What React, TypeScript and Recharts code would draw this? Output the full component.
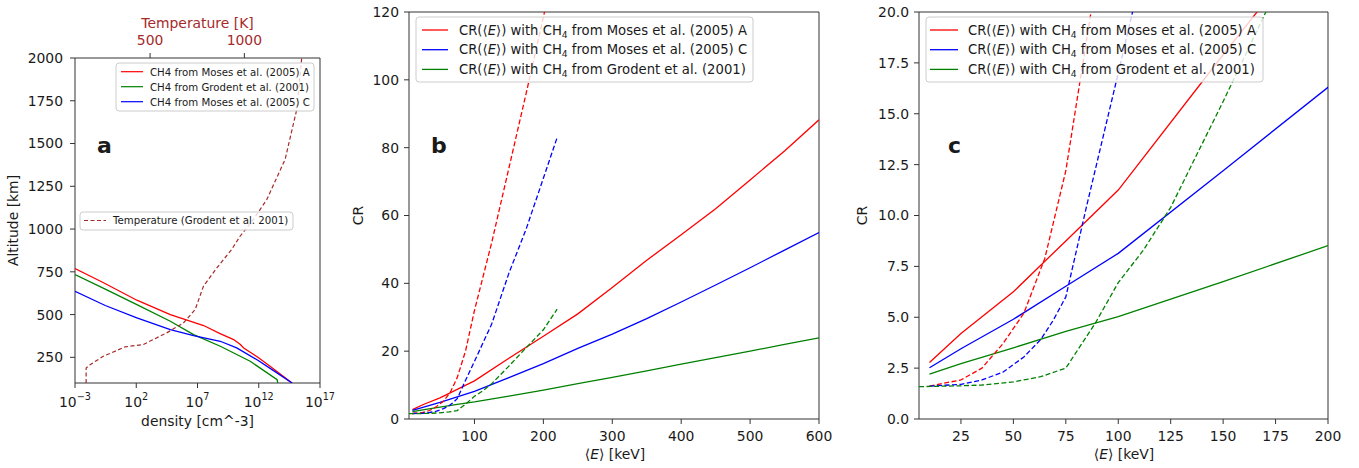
import React from "react";
import { ScatterChart, Scatter, LineChart, Line, XAxis, YAxis, ReferenceArea } from "recharts";

const FONT = "'DejaVu Sans', 'Liberation Sans', sans-serif";
const INK = "#1a1a1a";
const SPINE = "#333333";
const RED = "#ff0000";
const BLUE = "#0000ff";
const GREEN = "#008000";
const BROWN = "#a52a2a";
const TICK_FS = 13.9;

// ---- panel a: CH4 density profiles (altitude in km, log10 density in cm^-3)
const altMosesA = [769, 686, 584, 500, 436, 390, 354, 325, 305, 252, 197, 100];
const logDensMosesA = [-3, -0.67, 2.05, 4.78, 7.5, 8.8, 9.95, 10.5, 10.77, 11.9, 12.95, 14.72];
const altGrodent = [734, 649, 558, 461, 383, 315, 227, 119, 100];
const logDensGrodent = [-3, -0.53, 2.05, 4.78, 6.68, 8.86, 11.3, 13.5, 13.55];
const altMosesC = [636, 553, 481, 412, 377, 344, 305, 236, 168, 100];
const logDensMosesC = [-3, -0.53, 2.05, 4.78, 6.68, 8.86, 10.2, 11.86, 13.3, 14.72];
const tempAlt = [100, 188, 207, 256, 311, 325, 393, 451, 529, 666, 773, 881, 958, 1056, 1173, 1407, 1700, 2000];
const tempK = [161, 161, 182, 252, 367, 464, 588, 677, 739, 783, 854, 933, 977, 1048, 1119, 1216, 1278, 1304];
const densTicks = [1e-3, 1e2, 1e7, 1e12, 1e17];
const altTicks = [250, 500, 750, 1000, 1250, 1500, 1750, 2000];
const tempTicks = [500, 1000];

// ---- panels b, c: CR vs mean energy (keV)
const energySolid = [10, 25, 50, 75, 100, 150, 200, 250, 300, 350, 400, 450, 500, 550, 600];
const crMosesA = [2.78, 4.2, 6.25, 8.75, 11.25, 17.9, 24.4, 31, 38.8, 46.8, 54.3, 62, 70.5, 79, 88.2];
const crMosesC = [2.52, 3.45, 4.9, 6.52, 8.14, 12.2, 16.3, 20.8, 25, 29.6, 34.5, 39.5, 44.6, 49.8, 55];
const crGrodent = [2.2, 2.72, 3.5, 4.3, 5.03, 6.75, 8.52, 10.4, 12.3, 14.2, 16.2, 18.1, 20, 22, 23.9];

const energyDashA = [10, 25, 35, 45, 55, 65, 75, 87, 100, 125, 150, 175, 200, 225];
const crDashA = [1.62, 1.92, 2.5, 3.7, 5.2, 7.9, 12.2, 20, 32, 52, 74, 96, 118.5, 141];
const energyDashC = [10, 25, 35, 45, 55, 63, 69, 75, 85, 100, 125, 150, 175, 200, 220];
const crDashC = [1.62, 1.7, 1.92, 2.3, 3.05, 3.9, 4.85, 6.0, 10.5, 17, 28, 43, 56, 71, 83];
const energyDashG = [5, 25, 35, 50, 63, 75, 89, 100, 112, 125, 137, 150, 175, 200, 220];
const crDashG = [1.59, 1.63, 1.67, 1.82, 2.08, 2.5, 4.7, 6.7, 8.3, 10.4, 12.9, 15.6, 21, 26.3, 32.4];

const ticksB_x = [100, 200, 300, 400, 500, 600];
const ticksB_y = [0, 20, 40, 60, 80, 100, 120];
const ticksC_x = [25, 50, 75, 100, 125, 150, 175, 200];
const ticksC_y = [0, 2.5, 5, 7.5, 10, 12.5, 15, 17.5, 20];

const legendA = ["CH4 from Moses et al. (2005) A", "CH4 from Grodent et al. (2001)", "CH4 from Moses et al. (2005) C"];
const legendAColors = [RED, GREEN, BLUE];
const legendCR = ["Moses et al. (2005) A", "Moses et al. (2005) C", "Grodent et al. (2001)"];
const legendCRColors = [RED, BLUE, GREEN];

const pts = (xs: number[], ys: number[]) => xs.map((x, i) => ({ x, y: ys[i] }));
const profile = (alt: number[], logd: number[]) => alt.map((a, i) => ({ x: Math.pow(10, logd[i]), y: a }));

const noDot = () => <g />;

function PowTick(props: any) {
  const { x, y, payload } = props;
  const e = Math.round(Math.log10(payload.value));
  const es = e < 0 ? `\u2212${-e}` : `${e}`;
  return (
    <text x={x} y={y} textAnchor="middle" fill={INK} fontSize={TICK_FS} fontFamily={FONT}>
      <tspan dy={16.7}>10</tspan>
      <tspan dy={-6.4} fontSize={9.7}>{es}</tspan>
    </text>
  );
}

const tickStyle = { fill: INK, fontSize: TICK_FS, fontFamily: FONT };

function DensityPanel() {
  return (
    <ScatterChart width={340} height={468} margin={{ top: 28, right: 20, bottom: 55, left: 20 }}>
      <XAxis xAxisId="dens" type="number" dataKey="x" scale="log" domain={[1e-3, 1e17]} allowDataOverflow
        ticks={densTicks} interval={0} height={30} tickSize={5} tickMargin={2} axisLine={false}
        tickLine={{ stroke: SPINE }} tick={<PowTick />} />
      <XAxis xAxisId="temp" orientation="top" type="number" dataKey="x" domain={[102, 1401]} allowDataOverflow
        ticks={tempTicks} interval={0} height={30} tickSize={5} tickMargin={8} axisLine={false}
        tickLine={{ stroke: SPINE }} tick={{ ...tickStyle, fill: BROWN }} />
      <YAxis type="number" dataKey="y" domain={[100, 2000]} allowDataOverflow ticks={altTicks} interval={0}
        width={55} tickSize={5} tickMargin={7} axisLine={false} tickLine={{ stroke: SPINE }} tick={tickStyle} />
      <ReferenceArea xAxisId="dens" x1={1e-3} x2={1e17} y1={100} y2={2000} fill="none" stroke={SPINE} ifOverflow="visible" />
      <Scatter xAxisId="dens" data={profile(altMosesA, logDensMosesA)} line={{ stroke: RED, strokeWidth: 1.3 }}
        lineType="joint" shape={noDot} isAnimationActive={false} />
      <Scatter xAxisId="dens" data={profile(altGrodent, logDensGrodent)} line={{ stroke: GREEN, strokeWidth: 1.3 }}
        lineType="joint" shape={noDot} isAnimationActive={false} />
      <Scatter xAxisId="dens" data={profile(altMosesC, logDensMosesC)} line={{ stroke: BLUE, strokeWidth: 1.3 }}
        lineType="joint" shape={noDot} isAnimationActive={false} />
      <Scatter xAxisId="temp" data={tempAlt.map((a, i) => ({ x: tempK[i], y: a }))}
        line={{ stroke: BROWN, strokeWidth: 1.2, strokeDasharray: "4 2.5" }}
        lineType="joint" shape={noDot} isAnimationActive={false} />
    </ScatterChart>
  );
}

function CRPanel({ xMax, yMax, xTicks, yTicks, width, marginLeft, marginRight, fmt }: {
  xMax: number; yMax: number; xTicks: number[]; yTicks: number[]; width: number;
  marginLeft: number; marginRight: number; fmt?: (v: number) => string;
}) {
  const solid = [
    { d: pts(energySolid, crMosesA), c: RED },
    { d: pts(energySolid, crMosesC), c: BLUE },
    { d: pts(energySolid, crGrodent), c: GREEN },
  ];
  const dashed = [
    { d: pts(energyDashA, crDashA), c: RED },
    { d: pts(energyDashC, crDashC), c: BLUE },
    { d: pts(energyDashG, crDashG), c: GREEN },
  ];
  return (
    <LineChart width={width} height={468} margin={{ top: 12, right: marginRight, bottom: 19, left: marginLeft }}>
      <XAxis type="number" dataKey="x" domain={[5, xMax]} allowDataOverflow ticks={xTicks} interval={0}
        height={30} tickSize={5} tickMargin={7} axisLine={false} tickLine={{ stroke: SPINE }} tick={tickStyle} />
      <YAxis type="number" domain={[0, yMax]} allowDataOverflow ticks={yTicks} interval={0} width={50}
        tickSize={5} tickMargin={5} axisLine={false} tickLine={{ stroke: SPINE }} tick={tickStyle}
        tickFormatter={fmt} />
      <ReferenceArea x1={5} x2={xMax} y1={0} y2={yMax} fill="none" stroke={SPINE} ifOverflow="visible" />
      {solid.map((s, i) => (
        <Line key={"s" + i} data={s.d} dataKey="y" type="linear" stroke={s.c} strokeWidth={1.3}
          dot={false} activeDot={false} isAnimationActive={false} />
      ))}
      {dashed.map((s, i) => (
        <Line key={"d" + i} data={s.d} dataKey="y" type="linear" stroke={s.c} strokeWidth={1.3}
          strokeDasharray="5 2.5" dot={false} activeDot={false} isAnimationActive={false} />
      ))}
    </LineChart>
  );
}

function CRLegend({ x, sx0, sx1, tx }: { x: number; sx0: number; sx1: number; tx: number }) {
  return (
    <g>
      <rect x={x} y={17} width={337} height={65} rx={3} fill="#ffffff" fillOpacity={0.8} stroke="#cccccc" />
      {legendCR.map((t, i) => (
        <g key={t}>
          <line x1={sx0} x2={sx1} y1={30 + i * 19.7} y2={30 + i * 19.7} stroke={legendCRColors[i]} strokeWidth={1.3} />
          <text x={tx} y={34.5 + i * 19.7} fontSize={13.2} fontFamily={FONT} fill={INK}>
            CR(⟨<tspan fontStyle="italic">E</tspan>⟩) with CH<tspan dy={3} fontSize={9.2}>4</tspan>
            <tspan dy={-3}> from {t}</tspan>
          </text>
        </g>
      ))}
    </g>
  );
}

function Overlay() {
  const txt = { fontFamily: FONT, fill: INK, fontSize: TICK_FS };
  return (
    <svg width={1359} height={468} style={{ position: "absolute", left: 0, top: 0, pointerEvents: "none" }}>
      {/* panel a */}
      <text x={197.5} y={28} textAnchor="middle" {...txt} fill={BROWN}>Temperature [K]</text>
      <text x={197.5} y={425.5} textAnchor="middle" {...txt}>density [cm^-3]</text>
      <text transform="translate(17.5,220.5) rotate(-90)" textAnchor="middle" {...txt}>Altitude [km]</text>
      <text x={97} y={153} fontFamily={FONT} fontWeight="bold" fontSize={22} fill={INK}>a</text>
      <rect x={116} y={63} width={198} height={48} rx={3} fill="#ffffff" fillOpacity={0.8} stroke="#cccccc" />
      {legendA.map((t, i) => (
        <g key={t}>
          <line x1={121} x2={143} y1={71.7 + i * 15} y2={71.7 + i * 15} stroke={legendAColors[i]} strokeWidth={1.2} />
          <text x={150} y={75.5 + i * 15} fontFamily={FONT} fontSize={10.2} fill={INK}>{t}</text>
        </g>
      ))}
      <rect x={80} y={212} width={213} height={18} rx={3} fill="#ffffff" fillOpacity={0.8} stroke="#cccccc" />
      <line x1={84} x2={106} y1={220.5} y2={220.5} stroke={BROWN} strokeWidth={1.2} strokeDasharray="4 2.5" />
      <text x={113} y={224.3} fontFamily={FONT} fontSize={10.2} fill={INK}>Temperature (Grodent et al. 2001)</text>

      {/* panel b */}
      <text transform="translate(363.3,215.5) rotate(-90)" textAnchor="middle" {...txt}>CR</text>
      <text x={615} y={459} textAnchor="middle" {...txt}>
        ⟨<tspan fontStyle="italic">E</tspan>⟩ [keV]
      </text>
      <text x={431} y={153} fontFamily={FONT} fontWeight="bold" fontSize={22} fill={INK}>b</text>
      <CRLegend x={416} sx0={422} sx1={448} tx={459} />

      {/* panel c */}
      <text transform="translate(867,215.5) rotate(-90)" textAnchor="middle" {...txt}>CR</text>
      <text x={1124} y={459} textAnchor="middle" {...txt}>
        ⟨<tspan fontStyle="italic">E</tspan>⟩ [keV]
      </text>
      <text x={948} y={153} fontFamily={FONT} fontWeight="bold" fontSize={22} fill={INK}>c</text>
      <CRLegend x={926} sx0={930} sx1={958} tx={968} />
    </svg>
  );
}

export default function App() {
  return (
    <div style={{ position: "absolute", left: 0, top: 0, width: 1359, height: 468, background: "#fff", fontFamily: FONT }}>
      <div style={{ position: "absolute", left: 0, top: 0 }}>
        <DensityPanel />
      </div>
      <div style={{ position: "absolute", left: 340, top: 0 }}>
        <CRPanel xMax={600} yMax={120} xTicks={ticksB_x} yTicks={ticksB_y} width={500} marginLeft={19} marginRight={21} />
      </div>
      <div style={{ position: "absolute", left: 840, top: 0 }}>
        <CRPanel xMax={200} yMax={20} xTicks={ticksC_x} yTicks={ticksC_y} width={519} marginLeft={29} marginRight={31}
          fmt={(v) => v.toFixed(1)} />
      </div>
      <Overlay />
    </div>
  );
}
